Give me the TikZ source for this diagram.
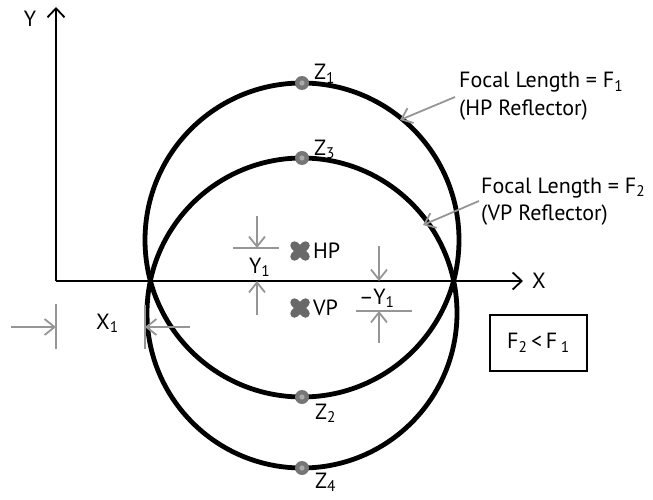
\documentclass[tikz,border=0pt]{standalone}
\usepackage{fontspec}
\setmainfont{PT Sans}
\usetikzlibrary{arrows.meta}
\definecolor{arrgray}{RGB}{150,150,150}
\definecolor{markgray}{RGB}{105,105,105}
\definecolor{dotgray}{RGB}{118,118,118}
\definecolor{dotlight}{RGB}{170,170,170}
\begin{document}
\begin{tikzpicture}[x=1pt,y=-1pt,
  lbl/.style={font=\fontsize{22}{26}\selectfont, inner sep=0pt},
  axisline/.style={line width=1.8pt, -{Straight Barb[length=9pt,width=17pt,line width=1.8pt]}},
  dimarrow/.style={draw=arrgray, line width=1.8pt, -{Straight Barb[length=10pt,width=16pt,line width=1.8pt]}},
  extline/.style={draw=arrgray, line width=1.8pt},
  ring/.style={line width=4.8pt},
  zdot/.style={circle, fill=dotgray, minimum size=14pt, inner sep=0pt},
  bigx/.pic={\draw[markgray, line width=8.5pt, line cap=round] (-5.5,-5.5)--(5.5,5.5) (-5.5,5.5)--(5.5,-5.5);},
  fbox/.style={draw, line width=2pt, minimum width=97pt, minimum height=56pt, inner sep=0pt, font=\fontsize{22}{26}\selectfont}]
\useasboundingbox (0,0) rectangle (653,500);

% axes
\coordinate (o) at (56,281);
\coordinate (ytip) at (56,7);
\coordinate (xtip) at (523,281);
\draw[axisline] (o) -- (ytip);
\draw[axisline] (o) -- (xtip);
\node[lbl] (ylab) at (30,19) {Y};
\node[lbl] (xlab) at (539,281) {X};

% circles
\draw[ring] (302,240) circle[radius=157];
\draw[ring] (302,313) circle[radius=155];

% Z points
\node[zdot] (z1) at (302,83) {};
\node[zdot] (z3) at (302,158) {};
\node[zdot] (z2) at (302,397) {};
\node[zdot] (z4) at (302,468) {};
\foreach \z in {z1,z2,z3,z4} \fill[dotlight] (\z) circle[radius=2.6];
\node[lbl, anchor=base west] (z1l) at (314,80) {Z\textsubscript{1}};
\node[lbl, anchor=base west] (z3l) at (314,155) {Z\textsubscript{3}};
\node[lbl, anchor=base west] (z2l) at (315,419) {Z\textsubscript{2}};
\node[lbl, anchor=base west] (z4l) at (315,488) {Z\textsubscript{4}};

% HP / VP markers
\pic at (300,251) {bigx};
\pic at (300,308) {bigx};
\node[lbl, anchor=west] (hp) at (313,251) {HP};
\node[lbl, anchor=west] (vp) at (313,308) {VP};

% Y1 dimension
\coordinate (y1a) at (257,216);
\coordinate (y1b) at (257,248);
\coordinate (y1el) at (233,248);
\coordinate (y1er) at (279,248);
\coordinate (y1c) at (257,315);
\coordinate (y1d) at (257,281);
\draw[dimarrow] (y1a) -- (y1b);
\draw[extline] (y1el) -- (y1er);
\draw[dimarrow] (y1c) -- (y1d);
\node[lbl, anchor=base west] (y1l) at (249,273) {Y\textsubscript{1}};

% -Y1 dimension
\coordinate (my1a) at (379,246);
\coordinate (my1b) at (379,281);
\coordinate (my1el) at (356,311);
\coordinate (my1er) at (412,311);
\coordinate (my1c) at (379,343);
\coordinate (my1d) at (379,311);
\draw[dimarrow] (my1a) -- (my1b);
\draw[extline] (my1el) -- (my1er);
\draw[dimarrow] (my1c) -- (my1d);
\node[lbl, anchor=base west] (my1l) at (359,304) {–Y\textsubscript{1}};

% X1 dimension
\coordinate (x1a) at (11,327);
\coordinate (x1b) at (56,327);
\coordinate (x1lt) at (56,304);
\coordinate (x1lb) at (56,349);
\coordinate (x1rt) at (145,305);
\coordinate (x1rb) at (145,349);
\coordinate (x1c) at (190,327);
\coordinate (x1d) at (145,327);
\draw[dimarrow] (x1a) -- (x1b);
\draw[extline] (x1lt) -- (x1lb);
\draw[extline] (x1rt) -- (x1rb);
\draw[dimarrow] (x1c) -- (x1d);
\node[lbl, anchor=base west] (x1l) at (96,329) {X\textsubscript{1}};

% focal length labels
\node[lbl, anchor=base west] (f1a) at (459,88) {Focal Length = F\textsubscript{1}};
\node[lbl, anchor=base west] (f1b) at (459,116) {(HP Reflector)};
\node[lbl, anchor=base west] (f2a) at (481,193) {Focal Length = F\textsubscript{2}};
\node[lbl, anchor=base west] (f2b) at (481,220) {(VP Reflector)};
\coordinate (p1s) at (455,97);
\coordinate (p1e) at (400,120);
\coordinate (p2s) at (479,201);
\coordinate (p2e) at (423,225);
\draw[dimarrow] (p1s) -- (p1e);
\draw[dimarrow] (p2s) -- (p2e);

% box
\node[fbox] (cmp) at (538.5,343) {F\textsubscript{2}\,<\,F\,\textsubscript{1}};
\end{tikzpicture}
\end{document}
